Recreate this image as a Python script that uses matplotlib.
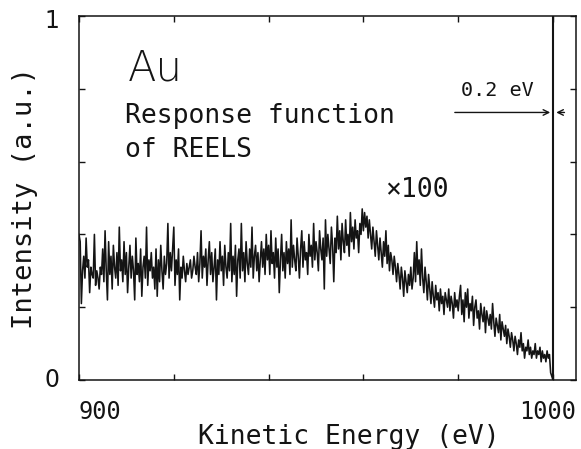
import numpy as np
import matplotlib
matplotlib.use("Agg")
import matplotlib.pyplot as plt

# REELS response function of Au (x100), sampled every 0.25 eV from 900 to 1000 eV
energy_start = 900.0
energy_step = 0.25
seg_900_920 = [0.40, 0.38, 0.21, 0.30, 0.34, 0.28, 0.39, 0.31, 0.33, 0.24,
               0.31, 0.29, 0.28, 0.40, 0.26, 0.30, 0.28, 0.25, 0.31, 0.29,
               0.36, 0.27, 0.41, 0.30, 0.22, 0.38, 0.29, 0.34, 0.25, 0.37,
               0.31, 0.28, 0.35, 0.26, 0.42, 0.30, 0.33, 0.27, 0.38, 0.29,
               0.35, 0.24, 0.31, 0.37, 0.28, 0.34, 0.30, 0.22, 0.39, 0.29,
               0.32, 0.27, 0.36, 0.23, 0.31, 0.34, 0.28, 0.42, 0.26, 0.33,
               0.30, 0.35, 0.28, 0.31, 0.25, 0.36, 0.23, 0.33, 0.27, 0.37,
               0.30, 0.25, 0.34, 0.29, 0.32, 0.43, 0.28, 0.35, 0.30, 0.36]
seg_920_940 = [0.42, 0.26, 0.33, 0.29, 0.36, 0.22, 0.31, 0.28, 0.34, 0.30,
               0.27, 0.32, 0.29, 0.31, 0.33, 0.28, 0.30, 0.34, 0.31, 0.29,
               0.35, 0.27, 0.32, 0.41, 0.28, 0.34, 0.31, 0.36, 0.26, 0.33,
               0.38, 0.29, 0.35, 0.27, 0.31, 0.36, 0.22, 0.33, 0.29, 0.38,
               0.30, 0.34, 0.26, 0.37, 0.31, 0.28, 0.35, 0.30, 0.43, 0.27,
               0.34, 0.29, 0.37, 0.23, 0.33, 0.36, 0.28, 0.43, 0.30, 0.35,
               0.27, 0.38, 0.32, 0.29, 0.36, 0.31, 0.42, 0.28, 0.34, 0.37,
               0.30, 0.35, 0.27, 0.33, 0.38, 0.31, 0.36, 0.29, 0.40, 0.33]
seg_940_960 = [0.37, 0.29, 0.41, 0.32, 0.35, 0.28, 0.39, 0.31, 0.36, 0.24,
               0.33, 0.40, 0.30, 0.35, 0.28, 0.38, 0.32, 0.36, 0.29, 0.44,
               0.31, 0.37, 0.33, 0.30, 0.39, 0.34, 0.28, 0.36, 0.41, 0.31,
               0.38, 0.33, 0.35, 0.29, 0.40, 0.34, 0.37, 0.31, 0.43, 0.33,
               0.38, 0.35, 0.30, 0.41, 0.36, 0.33, 0.39, 0.25, 0.44, 0.34,
               0.40, 0.36, 0.32, 0.42, 0.37, 0.27, 0.39, 0.35, 0.45, 0.36,
               0.41, 0.33, 0.43, 0.38, 0.35, 0.44, 0.37, 0.40, 0.34, 0.46,
               0.38, 0.42, 0.36, 0.44, 0.39, 0.41, 0.35, 0.43, 0.40, 0.47]
seg_960_980 = [0.41, 0.46, 0.42, 0.45, 0.39, 0.44, 0.40, 0.36, 0.42, 0.38,
               0.34, 0.41, 0.37, 0.33, 0.39, 0.35, 0.31, 0.38, 0.34, 0.41,
               0.32, 0.37, 0.30, 0.35, 0.33, 0.29, 0.34, 0.31, 0.27, 0.32,
               0.29, 0.25, 0.31, 0.28, 0.23, 0.30, 0.27, 0.24, 0.29, 0.26,
               0.31, 0.25, 0.28, 0.35, 0.27, 0.38, 0.29, 0.33, 0.26, 0.36,
               0.28, 0.24, 0.31, 0.27, 0.22, 0.29, 0.25, 0.21, 0.27, 0.23,
               0.20, 0.26, 0.22, 0.24, 0.19, 0.25, 0.21, 0.23, 0.18, 0.24,
               0.22, 0.20, 0.25, 0.19, 0.23, 0.21, 0.17, 0.24, 0.20, 0.22]
seg_980_1000 = [0.19, 0.23, 0.26, 0.18, 0.22, 0.16, 0.24, 0.20, 0.25, 0.17,
                0.21, 0.19, 0.23, 0.15, 0.20, 0.22, 0.17, 0.19, 0.14, 0.21,
                0.18, 0.16, 0.20, 0.13, 0.19, 0.17, 0.15, 0.18, 0.14, 0.21,
                0.16, 0.12, 0.17, 0.15, 0.13, 0.18, 0.11, 0.16, 0.14, 0.12,
                0.15, 0.10, 0.14, 0.12, 0.09, 0.13, 0.11, 0.08, 0.12, 0.10,
                0.07, 0.11, 0.09, 0.13, 0.08, 0.10, 0.06, 0.09, 0.08, 0.11,
                0.07, 0.09, 0.06, 0.08, 0.07, 0.10, 0.06, 0.08, 0.07, 0.09,
                0.05, 0.08, 0.06, 0.07, 0.05, 0.08, 0.06, 0.07, 0.02, 0.01,
                0.0]

intensity = np.array(seg_900_920 + seg_920_940 + seg_940_960 + seg_960_980 + seg_980_1000)
energy = energy_start + energy_step * np.arange(len(intensity))

elastic_peak = 1000.0
x_ticks = [900, 920, 940, 960, 980, 1000]
y_ticks = [0, 0.2, 0.4, 0.6, 0.8, 1.0]

mono = "DejaVu Sans Mono"
ink = "#141414"

fig = plt.figure(figsize=(5.81, 4.49), dpi=100)
ax = fig.add_axes([79 / 581, 69 / 449, 497 / 581, 364 / 449])

ax.plot(energy, intensity, color=ink, lw=1.15)
ax.axvline(elastic_peak, color=ink, lw=1.5)

ax.set_xlim(900, 1004.85)
ax.set_ylim(0, 1)

ax.set_xticks(x_ticks)
ax.set_yticks(y_ticks)
ax.set_xticklabels([])
ax.set_yticklabels([])
ax.tick_params(direction="in", length=4.5, width=1.0, color=ink,
               top=True, right=True, bottom=True, left=True)
for s in ax.spines.values():
    s.set_linewidth(1.1)
    s.set_color(ink)

# axis end labels
ax.text(900, -0.055, "900", fontsize=17, family=mono, color=ink,
        ha="left", va="top")
ax.text(1004.9, -0.055, "1000", fontsize=17, family=mono, color=ink,
        ha="right", va="top")
ax.text(-0.04, 0, "0", transform=ax.transAxes, fontsize=17, family="DejaVu Sans",
        color=ink, ha="right", va="center")
ax.text(-0.04, 0.985, "1", transform=ax.transAxes, fontsize=17, family="DejaVu Sans",
        color=ink, ha="right", va="center")

fig.text(349 / 581, 1 - 444 / 449, "Kinetic Energy (eV)", fontsize=19,
         family=mono, color=ink, ha="center", va="baseline")
fig.text(25 / 581, 1 - 198 / 449, "Intensity (a.u.)", rotation=90, fontsize=19.5,
         family=mono, color=ink, ha="center", va="center")

# annotations
ax.text(0.099, 0.824, "Au", transform=ax.transAxes, fontsize=30,
        family="DejaVu Sans", fontweight="light", color=ink, ha="left", va="baseline")
ax.text(0.093, 0.706, "Response function", transform=ax.transAxes, fontsize=19,
        family=mono, color=ink, ha="left", va="baseline")
ax.text(0.093, 0.613, "of REELS", transform=ax.transAxes, fontsize=19,
        family=mono, color=ink, ha="left", va="baseline")
ax.text(0.616, 0.503, "×100", transform=ax.transAxes, fontsize=19,
        family=mono, color=ink, ha="left", va="baseline")
ax.text(988.2, 0.78, "0.2 eV", fontsize=14.5, family=mono, color=ink,
        ha="center", va="baseline")

arrow_y = 0.735
ax.annotate("", xy=(elastic_peak, arrow_y), xytext=(978.7, arrow_y),
            arrowprops=dict(arrowstyle="->", color=ink, lw=1.0))
ax.annotate("", xy=(elastic_peak + 0.1, arrow_y), xytext=(1003.0, arrow_y),
            arrowprops=dict(arrowstyle="->", color=ink, lw=1.0))

fig.savefig("out.png", dpi=100)
